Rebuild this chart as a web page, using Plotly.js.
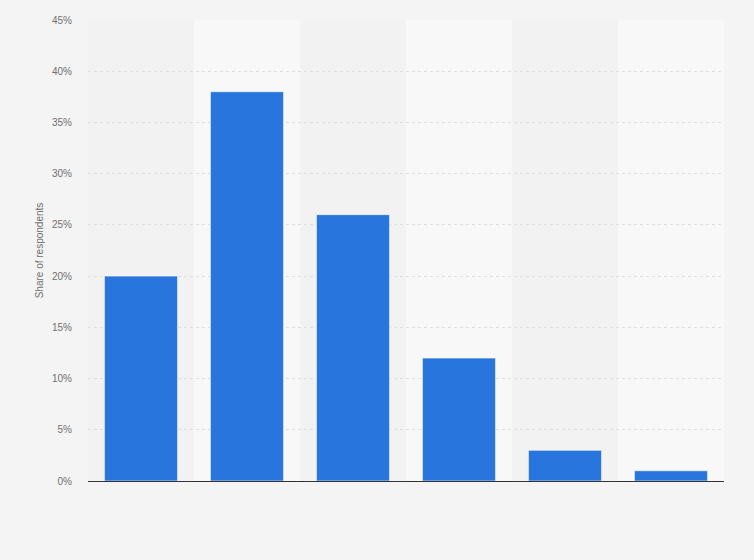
<!DOCTYPE html>
<html><head><meta charset="utf-8">
<script src="https://cdn.plot.ly/plotly-3.0.1.min.js"></script>
<style>html,body{margin:0;padding:0;background:#f4f4f4;}#chart{width:754px;height:560px;}</style>
</head><body><div id="chart"></div>
<script>
var categories = ["A", "B", "C", "D", "E", "F"];
var shares = [20, 38, 26, 12, 3, 1];
var yTickValues = [0, 5, 10, 15, 20, 25, 30, 35, 40, 45];
var yTickLabels = ["0%", "5%", "10%", "15%", "20%", "25%", "30%", "35%", "40%", "45%"];

var shapes = [];
for (var i = 0; i < categories.length; i++) {
  shapes.push({type: 'rect', xref: 'x', yref: 'paper', x0: i - 0.5, x1: i + 0.5, y0: 0, y1: 1,
    fillcolor: (i % 2 === 1) ? '#f8f8f8' : '#f2f2f2', line: {width: 0}, layer: 'below'});
}

var trace = {type: 'bar', x: categories, y: shares,
  marker: {color: '#2876dd', line: {color: 'rgba(255,255,255,0.6)', width: 1}},
  hoverinfo: 'none'};

var layout = {
  width: 754, height: 560,
  paper_bgcolor: '#f4f4f4', plot_bgcolor: 'rgba(0,0,0,0)',
  margin: {l: 88, r: 30, t: 20, b: 79},
  bargap: 0.31,
  showlegend: false,
  shapes: shapes,
  xaxis: {type: 'category', showticklabels: false, showgrid: false, zeroline: false,
    showline: false, ticks: '', range: [-0.5, categories.length - 0.5]},
  yaxis: {range: [0, 45], tickvals: yTickValues, ticktext: yTickLabels,
    showgrid: true, gridcolor: '#dedede', griddash: 'dot', gridwidth: 1,
    zeroline: true, zerolinecolor: '#333333', zerolinewidth: 1,
    tickfont: {family: 'Arial, Liberation Sans, sans-serif', size: 10, color: '#707070'},
    ticks: '', ticklabelstandoff: 15,
    title: {text: 'Share of respondents', standoff: 6,
      font: {family: 'Arial, Liberation Sans, sans-serif', size: 10, color: '#707070'}}}
};

Plotly.newPlot('chart', [trace], layout, {displayModeBar: false, staticPlot: true});
</script></body></html>
